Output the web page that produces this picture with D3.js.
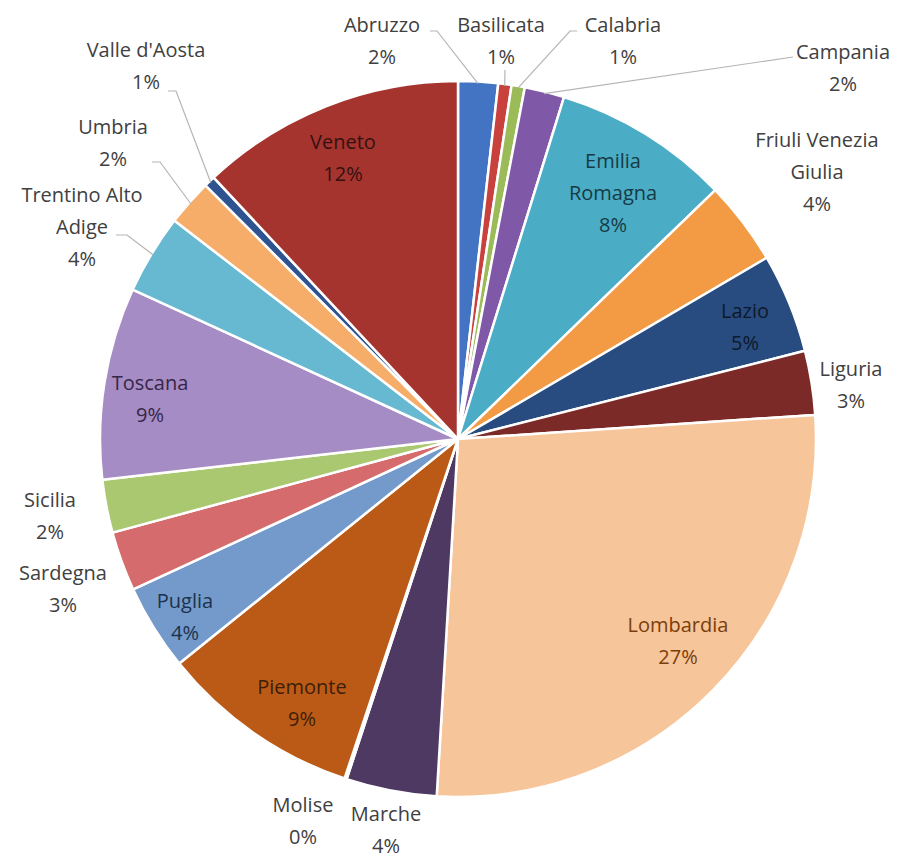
<!DOCTYPE html>
<meta charset="utf-8">
<script src="https://d3js.org/d3.v7.min.js"></script>
<style>
body { margin: 0; background: #fff; }
text { font-family: "Open Sans", Lato, sans-serif; }
</style>
<div id="my_dataviz"></div>
<script>

// regions, clockwise from 12 o'clock
var regions = ["Abruzzo", "Basilicata", "Calabria", "Campania", "Emilia Romagna",
  "Friuli Venezia Giulia", "Lazio", "Liguria", "Lombardia", "Marche", "Molise",
  "Piemonte", "Puglia", "Sardegna", "Sicilia", "Toscana", "Trentino Alto Adige",
  "Umbria", "Valle d'Aosta", "Veneto"];

// share (%)
var shares = [1.8, 0.6, 0.6, 1.8, 8.0, 3.8, 4.5, 2.9, 27.1, 4.1, 0.1,
  9.1, 3.9, 2.7, 2.4, 8.7, 3.6, 2.1, 0.5, 12.0];

// percentages as printed on the chart
var shown = ["2%", "1%", "1%", "2%", "8%", "4%", "5%", "3%", "27%", "4%", "0%",
  "9%", "4%", "3%", "2%", "9%", "4%", "2%", "1%", "12%"];

var colors = ["#4374C3", "#C8413D", "#9BBB59", "#8058A8", "#4BACC6", "#F39A45",
  "#284C80", "#7C2A27", "#F7C59A", "#4D3961", "#2A6F80", "#BB5A16", "#739ACB",
  "#D56B6C", "#A9C870", "#A68CC4", "#66B9D0", "#F6AD6A", "#2F5290", "#A5342F"];

var width = 905, height = 859;
var cx = 458, cy = 439, radius = 358;

// label layout: inside labels sit in the slice, outside labels get a leader
var labelPos = {
  "Abruzzo": {x: 382, y: 25, out: true, lead: [[430, 31], [437, 31]]},
  "Basilicata": {x: 501, y: 25, out: true, lead: [[505, 70]]},
  "Calabria": {x: 623, y: 25, out: true, lead: [[577, 31], [570, 31]]},
  "Campania": {x: 843, y: 52, out: true, lead: [[793, 57]]},
  "Emilia Romagna": {x: 613, y: 161},
  "Friuli Venezia Giulia": {x: 817, y: 140, out: true},
  "Lazio": {x: 745, y: 311},
  "Liguria": {x: 851, y: 369, out: true},
  "Lombardia": {x: 678, y: 625},
  "Marche": {x: 386, y: 814, out: true},
  "Molise": {x: 303, y: 805, out: true},
  "Piemonte": {x: 302, y: 687},
  "Puglia": {x: 185, y: 601},
  "Sardegna": {x: 63, y: 573, out: true},
  "Sicilia": {x: 50, y: 500, out: true},
  "Toscana": {x: 150, y: 383},
  "Trentino Alto Adige": {x: 82, y: 195, out: true, lead: [[116, 235], [127, 235]]},
  "Umbria": {x: 113, y: 127, out: true, lead: [[152, 162], [160, 162]]},
  "Valle d'Aosta": {x: 146, y: 50, out: true, lead: [[168, 91], [176, 91]]},
  "Veneto": {x: 343, y: 142}
};
var lineGap = 32;

var data = regions.map(function(r, i) { return {name: r, value: shares[i], pct: shown[i], color: colors[i]}; });

var svg = d3.select("#my_dataviz")
  .append("svg")
    .attr("width", width)
    .attr("height", height);

var g = svg.append("g")
    .attr("transform", "translate(" + cx + "," + cy + ")");

var pie = d3.pie()
  .sort(null)
  .value(function(d) { return d.value; });

var arc = d3.arc()
  .innerRadius(0)
  .outerRadius(radius);

var rimArc = d3.arc()
  .innerRadius(radius - 2)
  .outerRadius(radius - 2);

var arcs = pie(data);

// slices
g.selectAll("path.slice")
  .data(arcs)
  .enter()
  .append("path")
    .attr("class", "slice")
    .attr("d", arc)
    .style("fill", function(d) { return d.data.color; })
    .style("stroke", "#fff")
    .style("stroke-width", 2.5)
    .style("stroke-linejoin", "round");

// leader lines for outside labels
arcs.forEach(function(d) {
  var p = labelPos[d.data.name];
  if (!p.lead) return;
  var rim = rimArc.centroid(d);
  var pts = p.lead.map(function(q) { return [q[0] - cx, q[1] - cy]; });
  pts.push(rim);
  g.append("path")
    .attr("d", d3.line()(pts))
    .style("fill", "none")
    .style("stroke", "#b5b5b5")
    .style("stroke-width", 1.2);
});

// labels
var labels = svg.append("g");
arcs.forEach(function(d) {
  var p = labelPos[d.data.name];
  var lines;
  if (d.data.name == "Emilia Romagna") lines = ["Emilia", "Romagna"];
  else if (d.data.name == "Friuli Venezia Giulia") lines = ["Friuli Venezia", "Giulia"];
  else if (d.data.name == "Trentino Alto Adige") lines = ["Trentino Alto", "Adige"];
  else lines = [d.data.name];
  lines.push(d.data.pct);

  var fill;
  if (p.out) fill = "#404040";
  else {
    var h = d3.hsl(d.data.color);
    h.l = h.l * 0.33;
    fill = h.formatHex();
  }

  var t = labels.append("text")
    .attr("text-anchor", "middle")
    .style("font-size", "20px")
    .style("fill", fill);
  lines.forEach(function(s, i) {
    t.append("tspan")
      .attr("x", p.x)
      .attr("y", p.y + i * lineGap)
      .attr("dy", "0.35em")
      .text(s);
  });
});

</script>
